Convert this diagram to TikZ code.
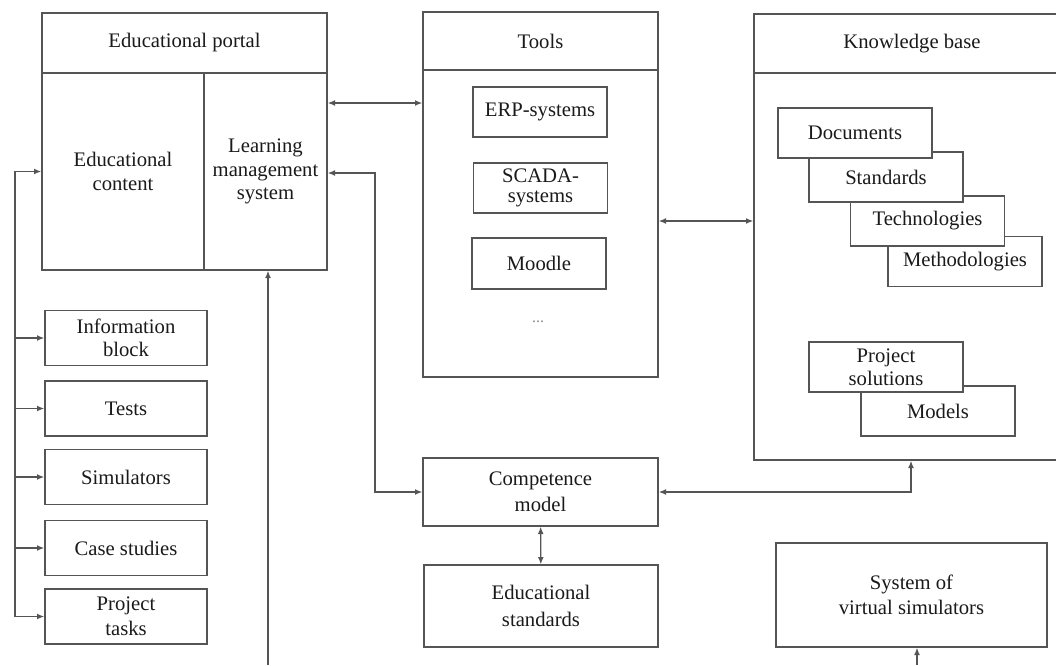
\documentclass[tikz,border=0pt]{standalone}
\usepackage{fontspec}
\setmainfont{Liberation Serif}
\usetikzlibrary{arrows.meta,positioning,calc}
\definecolor{ink}{HTML}{1A1A1A}
\definecolor{wire}{HTML}{555555}
\definecolor{dotgray}{HTML}{8A8A8A}
\tikzset{
  blockbox/.style={rectangle,draw=wire,line width=1pt,fill=white,text=ink,align=center,
    font=\fontsize{15.5}{17.5}\selectfont,inner sep=2pt},
  headbox/.style={blockbox,minimum height=45pt},
  itembox/.style={blockbox,minimum width=121.5pt,minimum height=41.25pt},
  stackbox/.style={blockbox,minimum width=115.5pt,minimum height=37.5pt},
  toolbox/.style={blockbox,minimum width=100.5pt,minimum height=37.5pt},
  onearr/.style={-{Latex[length=5.5pt,width=4.4pt]},line width=1pt,color=wire},
  twoarr/.style={{Latex[length=5.5pt,width=4.4pt]}-{Latex[length=5.5pt,width=4.4pt]},line width=1pt,color=wire},
}

\begin{document}
\begin{tikzpicture}[x=0.75pt, y=-0.75pt]
  \useasboundingbox (0,0) rectangle (1056,665);
  \clip (0,0) rectangle (1056,665);

  % educational portal
  \node[headbox,minimum width=213.75pt] (portalhead) at (184.5,43) {Educational portal};
  \node[blockbox,minimum width=121.5pt,minimum height=147.75pt] (edcontent) at (123,171.5) {Educational\\content};
  \node[blockbox,minimum width=92.25pt,minimum height=147.75pt] (lms) at (265.5,171.5) {Learning\\management\\system};

  % tools
  \node[headbox,minimum width=176.25pt,minimum height=43.5pt] (toolshead) at (540.5,41) {Tools};
  \node[blockbox,minimum width=176.25pt,minimum height=230.25pt] (toolsbody) at (540.5,223.5) {};
  \node[toolbox] (erp) at (540,112) {ERP-systems};
  \node[toolbox,font=\fontsize{15.5}{14.5}\selectfont] (scada) at (540.5,188) {SCADA-\\systems};
  \node[toolbox,minimum height=38.25pt] (moodle) at (539,263.5) {Moodle};
  \node[text=dotgray,font=\fontsize{12}{14}\selectfont] (tooldots) at (538,322) {...};

  % knowledge base
  \node[headbox,minimum width=237pt,minimum height=44.25pt] (kbhead) at (912,43.5) {Knowledge base};
  \node[blockbox,minimum width=237pt,minimum height=290.25pt] (kbbody) at (912,266.5) {};
  \node[stackbox] (methods) at (965,261.5) {Methodologies};
  \node[stackbox] (techs) at (927.5,221) {Technologies};
  \node[stackbox] (stds) at (886,177) {Standards};
  \node[stackbox] (docs) at (855,133) {Documents};
  \node[stackbox] (models) at (938,411) {Models};
  \node[stackbox] (projsol) at (886,367) {Project\\solutions};

  % content items
  \node[itembox] (info) at (126,338) {Information\\block};
  \node[itembox] (tests) at (126,408.5) {Tests};
  \node[itembox] (sims) at (126,477) {Simulators};
  \node[itembox] (cases) at (126,548) {Case studies};
  \node[itembox,font=\fontsize{15.5}{19}\selectfont] (tasks) at (126,616.5) {Project\\tasks};

  % competence and simulators
  \node[blockbox,minimum width=176.25pt,minimum height=51pt,font=\fontsize{15.5}{19.5}\selectfont] (comp) at (540.5,492) {Competence\\model};
  \node[blockbox,minimum width=175.5pt,minimum height=61.5pt,font=\fontsize{15.5}{20}\selectfont] (edstd) at (541,606) {Educational\\standards};
  \node[blockbox,minimum width=203.25pt,minimum height=78pt,font=\fontsize{15.5}{19}\selectfont] (virtsim) at (911.5,595) {System of\\virtual simulators};

  \coordinate (lmsin) at (268,665);
  \coordinate (simin) at (917,665);

  \draw[twoarr] (lms.east |- 0,103) -- (toolsbody.west |- 0,103);
  \draw[twoarr] (toolsbody.east |- 0,221) -- (kbbody.west |- 0,221);
  \draw[twoarr] (lms.east |- 0,173) -- (375,173) |- (comp.west);
  \draw[twoarr] (comp.east) -| (kbbody.south -| 911,0);
  \draw[twoarr] (comp) -- (edstd);

  \draw[onearr] (tasks.west -| 15,0) |- (edcontent.west);
  \foreach \b in {info,tests,sims,cases,tasks}
    \draw[onearr] (\b.west -| 15,0) -- (\b.west);

  \draw[onearr] (lmsin) -- (lmsin |- lms.south);
  \draw[onearr] (simin) -- (simin |- virtsim.south);
\end{tikzpicture}
\end{document}
